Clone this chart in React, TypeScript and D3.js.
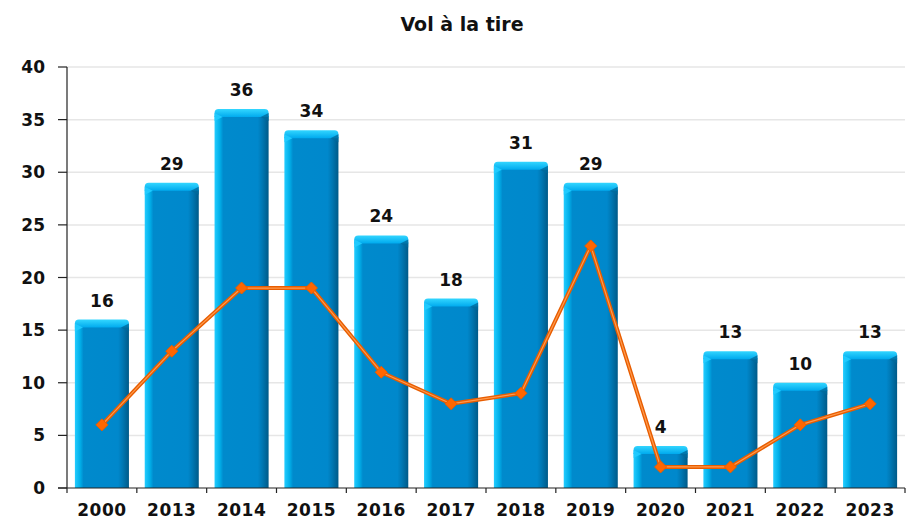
import React from 'react';
import * as d3 from 'd3';

const years = ['2000', '2013', '2014', '2015', '2016', '2017', '2018', '2019', '2020', '2021', '2022', '2023'];
const barValues = [16, 29, 36, 34, 24, 18, 31, 29, 4, 13, 10, 13];
const lineValues = [6, 13, 19, 19, 11, 8, 9, 23, 2, 2, 6, 8];
const yTicks = [0, 5, 10, 15, 20, 25, 30, 35, 40];

const W = 907;
const H = 521;
const margin = { top: 67, right: 2, bottom: 33, left: 67 };
const font = 'DejaVu Sans, sans-serif';

export default function App() {
  const x = d3.scaleBand<string>()
    .domain(years)
    .range([margin.left, W - margin.right])
    .paddingInner(0.226)
    .paddingOuter(0.113);
  const y = d3.scaleLinear().domain([0, 40]).range([H - margin.bottom, margin.top]);
  const step = x.step();
  const bw = x.bandwidth();

  const line = d3.line<number>()
    .x((_, i) => (x(years[i]) as number) + bw / 2)
    .y(d => y(d));

  const cap = 8;
  const r = 4;

  return (
    <svg width={W} height={H} style={{ position: 'absolute', left: 0, top: 0, fontFamily: font }}>
      <defs>
        <linearGradient id="barBody" x1="0" x2="1" y1="0" y2="0">
          <stop offset="0" stopColor="#22ccff" />
          <stop offset="0.1" stopColor="#00aee8" />
          <stop offset="0.16" stopColor="#008acc" />
          <stop offset="0.8" stopColor="#0088cc" />
          <stop offset="0.88" stopColor="#0078b4" />
          <stop offset="1" stopColor="#005a88" />
        </linearGradient>
        <linearGradient id="barCap" x1="0" x2="0" y1="0" y2="1">
          <stop offset="0" stopColor="#33d6ff" />
          <stop offset="1" stopColor="#00aaee" />
        </linearGradient>
      </defs>

      <text x={462} y={31} textAnchor="middle" fontSize={19} fontWeight="bold" fill="#111">Vol à la tire</text>

      {yTicks.map(t => (
        <g key={t}>
          {t > 0 && <line x1={margin.left} x2={W - margin.right} y1={y(t)} y2={y(t)} stroke="#e6e6e6" strokeWidth={1.5} />}
          <line x1={margin.left - 9} x2={margin.left} y1={y(t)} y2={y(t)} stroke="#222" strokeWidth={1.2} />
          <text x={margin.left - 22} y={y(t) + 6} textAnchor="end" fontSize={17} fontWeight="bold" fill="#111">{t}</text>
        </g>
      ))}

      {years.map((yr, i) => {
        const bx = x(yr) as number;
        const top = y(barValues[i]);
        const base = y(0);
        return (
          <g key={yr}>
            <rect x={bx} y={top + cap - 1} width={bw} height={base - top - cap + 1} fill="url(#barBody)" />
            <path
              d={`M${bx},${top + cap} L${bx},${top + r} Q${bx},${top} ${bx + r},${top} L${bx + bw - r},${top} Q${bx + bw},${top} ${bx + bw},${top + r} L${bx + bw},${top + cap} Z`}
              fill="url(#barCap)"
            />
            <path
              d={`M${bx + bw - cap},${top + cap} L${bx + bw},${top + r} L${bx + bw},${top + cap + 4} Z`}
              fill="#006a9c"
              opacity={0.8}
            />
            <path
              d={`M${bx},${top + r} L${bx + cap},${top + cap} L${bx},${top + cap + 4} Z`}
              fill="#22ccff"
              opacity={0.9}
            />
            <text x={bx + bw / 2} y={top - 13} textAnchor="middle" fontSize={17} fontWeight="bold" fill="#111">{barValues[i]}</text>
          </g>
        );
      })}

      <line x1={margin.left} x2={margin.left} y1={margin.top} y2={y(0)} stroke="#222" strokeWidth={1.2} />
      <line x1={margin.left - 9} x2={W - margin.right} y1={y(0)} y2={y(0)} stroke="#222" strokeWidth={1.2} />
      {years.map((yr, i) => {
        const tx = margin.left + step * i;
        return (
          <g key={'t' + yr}>
            <line x1={tx} x2={tx} y1={y(0)} y2={y(0) + 5} stroke="#222" strokeWidth={1.2} />
            <text x={(x(yr) as number) + bw / 2} y={y(0) + 28} textAnchor="middle" fontSize={17} fontWeight="bold" letterSpacing={0.5} fill="#111">{yr}</text>
          </g>
        );
      })}
      <line x1={margin.left + step * 12} x2={margin.left + step * 12} y1={y(0)} y2={y(0) + 5} stroke="#222" strokeWidth={1.2} />

      <path d={line(lineValues) ?? ''} fill="none" stroke="#e85d00" strokeWidth={4} strokeLinejoin="round" />
      <path d={line(lineValues) ?? ''} fill="none" stroke="#ff9a4d" strokeWidth={1.2} strokeLinejoin="round" />
      {lineValues.map((v, i) => {
        const cx = (x(years[i]) as number) + bw / 2;
        const cy = y(v);
        return (
          <path key={'m' + i} d={`M${cx},${cy - 6} L${cx + 6},${cy} L${cx},${cy + 6} L${cx - 6},${cy} Z`} fill="#ff6600" stroke="#e85d00" strokeWidth={1} strokeLinejoin="round" />
        );
      })}
    </svg>
  );
}
